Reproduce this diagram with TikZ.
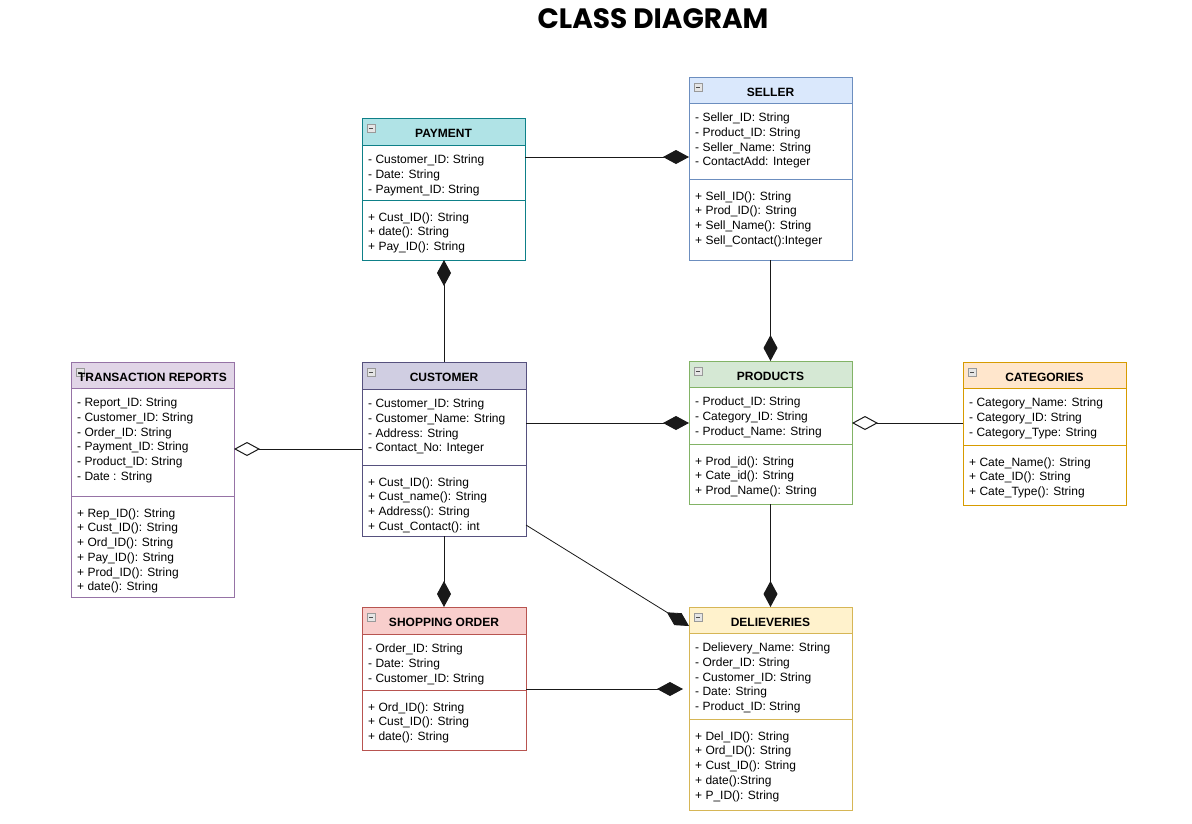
\documentclass[tikz,border=0pt]{standalone}
\usepackage{fontspec}
\setmainfont{Liberation Sans}
\newfontfamily\titlefont{Poppins}
\usetikzlibrary{arrows.meta,calc}
\definecolor{payF}{HTML}{B0E3E6}\definecolor{payD}{HTML}{0E8088}
\definecolor{selF}{HTML}{DAE8FC}\definecolor{selD}{HTML}{6C8EBF}
\definecolor{traF}{HTML}{E1D5E7}\definecolor{traD}{HTML}{9673A6}
\definecolor{cusF}{HTML}{D0CEE2}\definecolor{cusD}{HTML}{56517E}
\definecolor{prdF}{HTML}{D5E8D4}\definecolor{prdD}{HTML}{82B366}
\definecolor{catF}{HTML}{FFE6CC}\definecolor{catD}{HTML}{D79B00}
\definecolor{shoF}{HTML}{F8CECC}\definecolor{shoD}{HTML}{B85450}
\definecolor{delF}{HTML}{FFF2CC}\definecolor{delD}{HTML}{D6B656}
\tikzset{
  box/.style={rectangle, inner sep=0pt, outer sep=0pt, line width=1pt, anchor=north west},
  txt/.style={anchor=north west, inner sep=0pt, align=left, font=\fontsize{12}{14.7}\selectfont},
  ttl/.style={anchor=base, inner sep=0pt, font=\fontsize{12}{14}\selectfont\bfseries},
  icon/.style={draw=gray!80, fill=gray!20, line width=0.6pt},
  conn/.style={draw=black!90, line width=1pt},
  comp/.style={conn, -{Diamond[length=26pt,width=14pt]}},
  agg/.style={conn, -{Diamond[open,length=26pt,width=14pt,fill=white]}},
}
% name, x, width, top, header bottom, divider, bottom, colour prefix
\newcommand\umlbox[8]{%
  \node[box, fill=#8F, draw=#8D, minimum width=#3, minimum height={#5-#4}] (#1h) at (#2,#4) {};
  \node[box, fill=white, draw=#8D, minimum width=#3, minimum height={#6-#5}] (#1a) at (#1h.south west) {};
  \node[box, fill=white, draw=#8D, minimum width=#3, minimum height={#7-#6}] (#1m) at (#1a.south west) {};
  \draw[icon] ([shift={(5,6)}]#1h.north west) rectangle ++(8,8);
  \draw[black!70, line width=0.8pt] ([shift={(6.8,10)}]#1h.north west) -- ++(4.4,0);
}
% name, title, attributes, methods
\newcommand\umltext[4]{%
  \node[ttl] (#1t) at ([shift={(0,19.5)}]#1h.north) {#2};
  \node[txt] (#1at) at ([shift={(6,7.5)}]#1a.north west) {\rule{0pt}{11pt}#3};
  \node[txt] (#1mt) at ([shift={(6,10)}]#1m.north west) {\rule{0pt}{11pt}#4};
}
\begin{document}
\begin{tikzpicture}[x=1pt,y=-1pt]
\useasboundingbox[fill=white] (0,0) rectangle (1192,823);
\node[anchor=base, inner sep=0pt, font=\titlefont\fontsize{28}{32}\selectfont\bfseries] (title) at (653,28.5) {CLASS DIAGRAM};

\umlbox{pay}{362}{163}{118}{145}{200}{260}{pay}
\umltext{pay}{PAYMENT}{- Customer\_ID: String\\- Date: String\\- Payment\_ID: String}{+ Cust\_ID(): String\\+ date(): String\\+ Pay\_ID(): String}

\umlbox{sel}{689}{163}{77}{103}{179}{260}{sel}
\umltext{sel}{SELLER}{- Seller\_ID: String\\- Product\_ID: String\\- Seller\_Name: String\\- ContactAdd: Integer}{+ Sell\_ID(): String\\+ Prod\_ID(): String\\+ Sell\_Name(): String\\+ Sell\_Contact():Integer}

\umlbox{tra}{71}{163}{362}{388}{496}{597}{tra}
\umltext{tra}{TRANSACTION REPORTS}{- Report\_ID: String\\- Customer\_ID: String\\- Order\_ID: String\\- Payment\_ID: String\\- Product\_ID: String\\- Date : String}{+ Rep\_ID(): String\\+ Cust\_ID(): String\\+ Ord\_ID(): String\\+ Pay\_ID(): String\\+ Prod\_ID(): String\\+ date(): String}

\umlbox{cus}{362}{164}{362}{389}{465}{536}{cus}
\umltext{cus}{CUSTOMER}{- Customer\_ID: String\\- Customer\_Name: String\\- Address: String\\- Contact\_No: Integer}{+ Cust\_ID(): String\\+ Cust\_name(): String\\+ Address(): String\\+ Cust\_Contact(): int}

\umlbox{prd}{689}{163}{361}{387}{444}{504}{prd}
\umltext{prd}{PRODUCTS}{- Product\_ID: String\\- Category\_ID: String\\- Product\_Name: String}{+ Prod\_id(): String\\+ Cate\_id(): String\\+ Prod\_Name(): String}

\umlbox{cat}{963}{163}{362}{388}{445}{505}{cat}
\umltext{cat}{CATEGORIES}{- Category\_Name: String\\- Category\_ID: String\\- Category\_Type: String}{+ Cate\_Name(): String\\+ Cate\_ID(): String\\+ Cate\_Type(): String}

\umlbox{sho}{362}{164}{607}{634}{690}{750}{sho}
\umltext{sho}{SHOPPING ORDER}{- Order\_ID: String\\- Date: String\\- Customer\_ID: String}{+ Ord\_ID(): String\\+ Cust\_ID(): String\\+ date(): String}

\umlbox{del}{689}{163}{607}{633}{719}{810}{del}
\umltext{del}{DELIEVERIES}{- Delievery\_Name: String\\- Order\_ID: String\\- Customer\_ID: String\\- Date: String\\- Product\_ID: String}{+ Del\_ID(): String\\+ Ord\_ID(): String\\+ Cust\_ID(): String\\+ date():String\\+ P\_ID(): String}

% connectors
\draw[comp] (paya.east |- 0,157) -- (sela.west |- 0,157);
\draw[comp] (cush.north) -- (cush.north |- paym.south);
\draw[comp] (selm.south) -- (prdh.north);
\draw[agg] (cusa.west |- 0,449) -- (traa.east |- 0,449);
\draw[comp] (cusa.east |- 0,423) -- (prda.west |- 0,423);
\draw[agg] (cata.west |- 0,423) -- (prda.east |- 0,423);
\draw[comp] (cusm.south) -- (shoh.north);
\draw[comp] (prdm.south) -- (delh.north);
\draw[comp, shorten >=6pt] (shom.east |- 0,689) -- (dela.west |- 0,689);
\draw[comp, line width=0.8pt] (cusm.east |- 0,525) -- (delh.west |- 0,626);
\end{tikzpicture}
\end{document}
